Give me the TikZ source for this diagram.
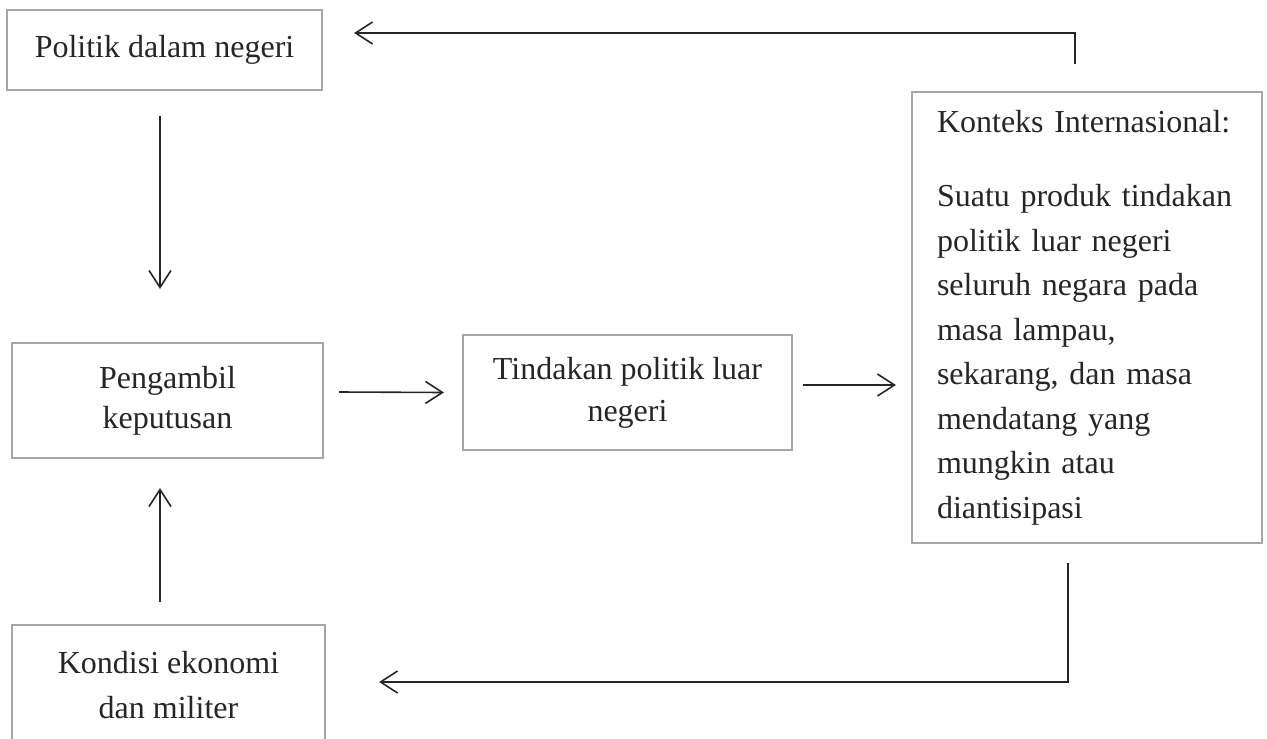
\documentclass[tikz,border=0pt]{standalone}
\usepackage{fontspec}
\setmainfont{Liberation Serif}
\usetikzlibrary{arrows.meta,calc}
\begin{document}
\begin{tikzpicture}[x=0.5pt,y=-0.5pt,
  box/.style={draw=black!35, line width=1.1pt, fill=white, align=center,
    text=black!85, font=\fontsize{16}{20}\selectfont, inner sep=0pt},
  arr/.style={draw=black!85, line width=0.8pt,
    -{Straight Barb[length=8.5pt,width=11pt]}}]
\useasboundingbox (0,0) rectangle (1267,738);
\node[box, minimum width=157.5pt, minimum height=40pt] (pdn) at (164.5,50) {Politik dalam negeri};
\node[box, minimum width=155.5pt, minimum height=57.5pt] (pk) at (167.5,400.5) {Pengambil\\keputusan};
\node[box, minimum width=156.5pt, minimum height=60pt, font=\fontsize{16}{22.5}\selectfont] (kem) at (168.5,685) {Kondisi ekonomi\\dan militer};
\node[box, minimum width=164.5pt, minimum height=57.5pt, font=\fontsize{16}{21}\selectfont] (tpl) at (627.5,392.5) {Tindakan politik luar\\negeri};
\node[box, text width=150pt, inner xsep=12.5pt, minimum height=225.5pt, align=left,
  font=\fontsize{16}{22.25}\selectfont] (ki) at (1087,317.5)
  {Konteks Internasional:\\[15pt]
   Suatu produk tindakan\\
   politik luar negeri\\
   seluruh negara pada\\
   masa lampau,\\
   sekarang, dan masa\\
   mendatang yang\\
   mungkin atau\\
   diantisipasi};
\draw[arr] ([xshift=-2.25pt,yshift=-12.5pt]pdn.south) -- ([xshift=-3.75pt,yshift=26.5pt]pk.north);
\draw[arr] ([xshift=-4.25pt,yshift=11pt]kem.north) -- ([xshift=-3.75pt,yshift=-14.5pt]pk.south);
\draw[arr] ([xshift=7.5pt,yshift=4.25pt]pk.east) -- ([xshift=-9pt]tpl.west);
\draw[arr] ([xshift=5pt,yshift=3.75pt]tpl.east) -- ([xshift=-7.5pt,yshift=-33.75pt]ki.west);
\draw[arr] ([xshift=-6pt,yshift=13.5pt]ki.north) |- ([xshift=15.5pt,yshift=8.5pt]pdn.east);
\draw[arr] ([xshift=-9.5pt,yshift=-9.5pt]ki.south) |- ([xshift=26.5pt,yshift=1.5pt]kem.east);
\end{tikzpicture}
\end{document}
